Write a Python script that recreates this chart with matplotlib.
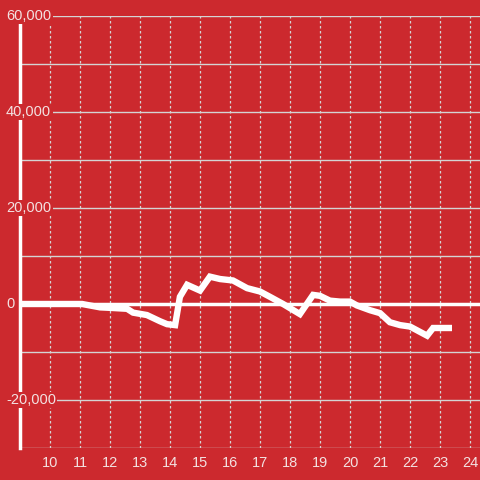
import matplotlib
matplotlib.use("Agg")
import matplotlib.pyplot as plt

# data
x_vals = [9.0, 11.07, 11.67, 12.0, 12.57, 12.77, 13.23, 13.67, 13.9, 14.17, 14.33,
          14.57, 15.0, 15.33, 15.67, 16.1, 16.57, 17.0, 17.33, 17.77, 18.33, 18.77,
          19.0, 19.33, 19.67, 20.0, 20.23, 20.67, 21.0, 21.33, 21.67, 22.0, 22.57,
          22.77, 23.4]
y_vals = [0, 0, -700, -800, -1000, -1800, -2300, -3600, -4200, -4400, 1500,
          4000, 2800, 5700, 5200, 4900, 3300, 2600, 1500, 0, -2100, 1900,
          1700, 700, 500, 500, -300, -1300, -1900, -3800, -4400, -4700, -6600,
          -5000, -5000]
x_ticks = list(range(10, 25))
y_grid = list(range(-30000, 60001, 10000))
y_label_ticks = [60000, 40000, 20000, 0, -20000]

BG = "#cc292e"
TXT = "#f3e1e1"
GRID = "#d4d4d4"

plt.rcParams['font.family'] = ['Liberation Sans', 'DejaVu Sans']

fig = plt.figure(figsize=(4.8, 4.8), dpi=100, facecolor=BG)
ax = fig.add_axes([20/480, 1-448/480, 460/480, 432/480])
ax.set_facecolor(BG)
ax.set_xlim(9.0, 24.333)
ax.set_ylim(-30000, 60000)

for s in ['top', 'right', 'bottom']:
    ax.spines[s].set_visible(False)
ax.spines['left'].set_color('white')
ax.spines['left'].set_linewidth(2.5)
ax.spines['left'].set_zorder(3)

# gridlines
for g in y_grid:
    ax.axhline(g, color=GRID, lw=1.0, zorder=1)
for t in x_ticks:
    ax.axvline(t, color=GRID, lw=0.9, ls=(0, (2, 2)), zorder=1)
ax.axhline(0, color='white', lw=2.5, zorder=2)

ax.plot(x_vals, y_vals, color='white', lw=4.6, solid_capstyle='butt',
        solid_joinstyle='miter', zorder=4)

ax.set_xticks(x_ticks)
ax.set_xticklabels([str(t) for t in x_ticks], color=TXT, fontsize=10.5)
ax.tick_params(axis='x', length=0, pad=6)
ax.set_yticks([])

trans = ax.get_yaxis_transform()
for v in y_label_ticks:
    ax.text(-14/460, v, f"{v:,}", transform=trans, ha='left', va='center',
            color=TXT, fontsize=10.5, clip_on=False, zorder=6,
            bbox=dict(facecolor=BG, edgecolor='none', pad=1.0))

fig.savefig("out.png", dpi=100, facecolor=BG)
